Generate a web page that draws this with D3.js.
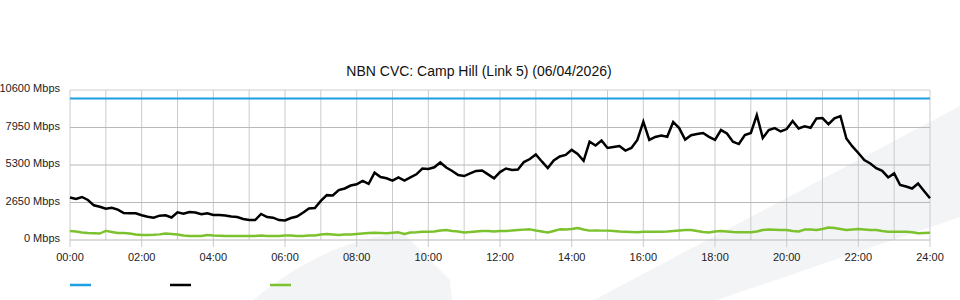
<!DOCTYPE html>
<html>
<head>
<meta charset="utf-8">
<script src="https://cdn.jsdelivr.net/npm/d3@7"></script>
<style>
  body { margin: 0; background: #fff; }
  svg { display: block; font-family: "Liberation Sans", Arial, sans-serif; }
  .grid-v { stroke: #cbcbcb; stroke-width: 1; }
  .grid-h { stroke: #b9b9b9; stroke-width: 1.2; }
  .lbl { font-size: 11px; fill: #222; }
</style>
</head>
<body>
<svg width="960" height="300"></svg>
<script>
// samples every 10 minutes, 00:00 .. 24:00
const stepMinutes = 10;

// black series (Mbps)
const trafficIn = [
  3000, 2900, 3040, 2830, 2450, 2350, 2210, 2280, 2150, 1900,
  1890, 1890, 1750, 1650, 1580, 1720, 1750, 1590, 1960, 1860,
  1980, 1940, 1820, 1890, 1770, 1770, 1730, 1660, 1625, 1480,
  1410, 1410, 1840, 1625, 1580, 1410, 1380, 1555, 1660, 1930,
  2230, 2260, 2760, 3170, 3145, 3530, 3640, 3850, 3940, 4170,
  3960, 4760, 4450, 4360, 4190, 4420, 4200, 4420, 4640, 5050,
  5020, 5140, 5480, 5120, 4880, 4590, 4520, 4710, 4880, 4910,
  4640, 4360, 4800, 5050, 4950, 4980, 5510, 5720, 6040, 5550,
  5090, 5620, 5900, 6010, 6370, 6080, 5600, 6950, 6680, 7030,
  6500, 6570, 6640, 6320, 6500, 7070, 8360, 7070, 7280, 7380,
  7290, 8340, 7910, 7100, 7400, 7490, 7560, 7290, 7070, 7770,
  7530, 6950, 6780, 7420, 7560, 8830, 7210, 7770, 7910, 7670,
  7840, 8410, 7880, 8030, 7930, 8590, 8620, 8180, 8600, 8760,
  7170, 6610, 6150, 5650, 5410, 5070, 4890, 4420, 4710, 3890,
  3780, 3640, 3990, 3460, 2950
];

// green series (Mbps)
const trafficOut = [
  640, 600, 530, 495, 475, 460, 640, 565, 495, 495,
  460, 390, 355, 355, 370, 400, 460, 425, 390, 320,
  283, 283, 283, 355, 320, 305, 283, 283, 283, 283,
  283, 283, 320, 283, 283, 283, 320, 320, 283, 283,
  320, 320, 390, 425, 390, 355, 390, 390, 425, 460,
  495, 516, 495, 475, 516, 545, 425, 530, 545, 580,
  587, 600, 670, 707, 636, 600, 530, 565, 600, 636,
  636, 600, 636, 636, 670, 707, 730, 756, 670, 600,
  530, 636, 756, 740, 780, 850, 740, 660, 670, 660,
  660, 636, 600, 587, 565, 545, 587, 587, 587, 587,
  600, 636, 670, 707, 707, 636, 565, 530, 600, 636,
  600, 565, 545, 545, 545, 600, 707, 740, 720, 707,
  707, 636, 600, 740, 740, 707, 780, 885, 850, 780,
  707, 740, 780, 740, 707, 707, 636, 587, 587, 587,
  587, 545, 473, 495, 516
];

// blue series: link capacity (Mbps), flat all day
const capacity = 10000;

const yTicks = [0, 2650, 5300, 7950, 10600];
const xTickHours = [0, 2, 4, 6, 8, 10, 12, 14, 16, 18, 20, 22, 24];
const title = "NBN CVC: Camp Hill (Link 5) (06/04/2026)";
const seriesColors = ["#1e9fe0", "#000000", "#7cc22e"];

const svg = d3.select("svg");

// decorative background shapes
svg.append("path")
  .attr("d", "M253,300 C290,270 340,238 403,233 L450,280 L452,300 Z")
  .attr("fill", "#f3f4f6");
svg.append("path")
  .attr("d", "M594,300 L960,106 L960,217 L717,300 Z")
  .attr("fill", "#f3f4f6");

const x = d3.scaleLinear().domain([0, 24 * 60]).range([70, 930]);
const y = d3.scaleLinear().domain([0, 10600]).range([240, 90]);

// vertical grid, each hour
const hours = d3.range(0, 25);
svg.selectAll(".grid-v")
  .data(hours)
  .enter().append("line")
  .attr("class", "grid-v")
  .attr("x1", d => x(d * 60)).attr("x2", d => x(d * 60))
  .attr("y1", y(10600))
  .attr("y2", d => d % 2 === 0 ? 247 : y(0));

// horizontal grid
svg.selectAll(".grid-h")
  .data(yTicks)
  .enter().append("line")
  .attr("class", "grid-h")
  .attr("x1", x(0)).attr("x2", x(24 * 60))
  .attr("y1", d => y(d)).attr("y2", d => y(d))
  .style("stroke", d => d === 10600 ? "#d0d0d0" : null);

// y labels
svg.selectAll(".ylbl")
  .data(yTicks)
  .enter().append("text")
  .attr("class", "lbl")
  .attr("x", 60)
  .attr("y", d => y(d) + 2)
  .attr("text-anchor", "end")
  .text(d => d + " Mbps");

// x labels
svg.selectAll(".xlbl")
  .data(xTickHours)
  .enter().append("text")
  .attr("class", "lbl")
  .attr("x", d => x(d * 60))
  .attr("y", 260.5)
  .attr("text-anchor", "middle")
  .text(d => String(d).padStart(2, "0") + ":00");

// title
svg.append("text")
  .attr("x", 479).attr("y", 76)
  .attr("text-anchor", "middle")
  .style("font-size", "14px")
  .style("fill", "#111")
  .text(title);

const line = d3.line()
  .x((d, i) => x(i * stepMinutes))
  .y(d => y(d));

// capacity
svg.append("line")
  .attr("x1", x(0)).attr("x2", x(24 * 60))
  .attr("y1", y(capacity)).attr("y2", y(capacity))
  .attr("stroke", seriesColors[0])
  .attr("stroke-width", 2.2);

svg.append("path")
  .datum(trafficOut)
  .attr("d", line)
  .attr("fill", "none")
  .attr("stroke", seriesColors[2])
  .attr("stroke-width", 2.4)
  .attr("stroke-linejoin", "round");

svg.append("path")
  .datum(trafficIn)
  .attr("d", line)
  .attr("fill", "none")
  .attr("stroke", seriesColors[1])
  .attr("stroke-width", 2.5)
  .attr("stroke-linejoin", "miter");

// legend swatches (no labels in the original)
svg.selectAll(".legend")
  .data(seriesColors)
  .enter().append("line")
  .attr("x1", (d, i) => 70 + i * 100)
  .attr("x2", (d, i) => 91 + i * 100)
  .attr("y1", 285).attr("y2", 285)
  .attr("stroke", d => d)
  .attr("stroke-width", 2.5);
</script>
</body>
</html>
